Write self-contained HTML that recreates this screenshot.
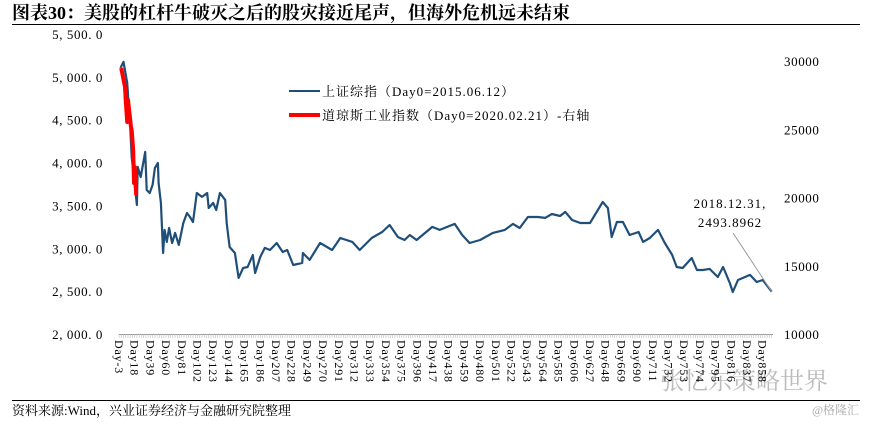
<!DOCTYPE html>
<html><head><meta charset="utf-8"><style>
body{margin:0;background:#fff;}
svg text{font-family:"Liberation Serif","Noto Serif CJK SC",serif;}
</style></head><body>
<svg width="871" height="420" xmlns="http://www.w3.org/2000/svg">
<text x="12" y="19" font-size="18" font-weight="bold" fill="#000">图表30：美股的杠杆牛破灭之后的股灾接近尾声，但海外危机远未结束</text>
<line x1="12" y1="24.5" x2="860" y2="24.5" stroke="#000" stroke-width="1"/>
<line x1="12" y1="400.5" x2="860" y2="400.5" stroke="#000" stroke-width="1"/>
<text x="12" y="415" font-size="13" fill="#000">资料来源:Wind，兴业证券经济与金融研究院整理</text>
<text x="660" y="389" font-size="24" fill="#bbb" font-family="Liberation Sans,Noto Sans CJK SC,sans-serif">张忆东策略世界</text>
<text x="812" y="414" font-size="12" fill="#aaa" font-family="Liberation Sans,Noto Sans CJK SC,sans-serif">@格隆汇</text>
<g id="plot"></g>
</svg>
<script>
const shDays=[-1,3,8,12,14,21,22,26,32,34,38,42,45,49,50,53,56,58,61,64,68,72,77,83,88,92,96,101,108,115,117,123,127,132,139,141,145,152,157,163,169,176,179,186,192,199,208,216,222,230,242,243,252,266,282,293,309,319,335,349,359,370,379,386,395,416,426,436,446,456,466,480,497,513,524,533,544,557,567,576,587,594,603,614,627,636,644,651,656,663,671,680,692,698,707,718,727,737,743,751,763,770,778,787,798,805,814,818,825,841,850,858,870];
const shValues=[5104,5174,4929,4415,4065,3505,3949,3832,4124,3680,3645,3739,3937,3995,3762,3529,2945,3214,3074,3237,3062,3179,3039,3295,3412,3365,3307,3645,3599,3645,3470,3529,3447,3645,3564,3295,3015,2945,2654,2770,2782,2922,2712,2899,3004,2980,3062,2957,2980,2805,2829,2945,2864,3062,2980,3120,3074,2980,3120,3190,3272,3132,3097,3155,3097,3249,3214,3249,3284,3155,3062,3097,3179,3214,3284,3237,3365,3365,3354,3400,3377,3424,3330,3295,3295,3424,3540,3470,3132,3307,3307,3155,3190,3074,3120,3214,3062,2922,2782,2770,2887,2747,2747,2759,2665,2782,2595,2490,2630,2689,2607,2630,2494];
const djDays=[0,5,6,8,9,13,14,16,17,18,20];
const djValues=[29487,28095,27143,25531,27143,25165,24945,23480,21062,22235,20183];
const leftTicks=[2000,2500,3000,3500,4000,4500,5000,5500];
const rightTicks=[10000,15000,20000,25000,30000];
const xLabelDays=[];for(let d=-3;d<=858;d+=21)xLabelDays.push(d);

const NS="http://www.w3.org/2000/svg";
const plot=document.getElementById('plot');
const X0=119,PX=15.7/21;
const x=d=>X0+(d+3)*PX;
const yL=v=>334-(v-2000)*300/3500;
const yR=v=>334-(v-10000)*273/20000;
function mk(tag,attrs,txt){const e=document.createElementNS(NS,tag);for(const k in attrs)e.setAttribute(k,attrs[k]);if(txt!==undefined)e.textContent=txt;plot.appendChild(e);return e;}

leftTicks.forEach(v=>{
  const s=v.toLocaleString('en-US',{minimumFractionDigits:1}).replace(',',', ').replace('.','. ');
  const t=mk('text',{x:103,y:yL(v)+5,'font-size':13,'text-anchor':'end',fill:'#000','letter-spacing':'0.6'},s);
  
  
});
rightTicks.forEach(v=>{
  const t=mk('text',{x:784,y:yR(v)+5,'font-size':13,fill:'#000','letter-spacing':'0.6'},String(v));
  
  
});
const ax=mk('line',{x1:X0,y1:334.5,x2:773,y2:334.5,stroke:'#999','stroke-width':1});


let tp='';for(let d=-3;d<=872;d+=3){const xx=x(d).toFixed(1);tp+=`M${xx} 334V338`;}
const tk=mk('path',{d:tp,stroke:'#bbb','stroke-width':0.6,fill:'none'});


xLabelDays.forEach(d=>{
  const xx=x(d)-4;
  const t=mk('text',{x:0,y:0,'font-size':12,fill:'#000','letter-spacing':'0.8',transform:`translate(${xx},340) rotate(90)`},'Day'+d);
  
  
});
const shPath=shDays.map((d,i)=>(i?'L':'M')+x(d).toFixed(1)+' '+yL(shValues[i]).toFixed(1)).join('');
const s1=mk('path',{d:shPath,stroke:'#1f4e79','stroke-width':2.2,fill:'none','stroke-linejoin':'round'});


const djPath=djDays.map((d,i)=>(i?'L':'M')+x(d).toFixed(1)+' '+yR(djValues[i]).toFixed(1)).join('');
const s2=mk('path',{d:djPath,stroke:'#ff0000','stroke-width':4,fill:'none','stroke-linejoin':'round'});


const l1=mk('line',{x1:289,y1:91,x2:320,y2:91,stroke:'#1f4e79','stroke-width':2});


const lt1=mk('text',{x:322,y:96,'font-size':13,fill:'#000','letter-spacing':'1'},'上证综指（Day0=2015.06.12）');


const l2=mk('line',{x1:289,y1:115,x2:320,y2:115,stroke:'#ff0000','stroke-width':4});


const lt2=mk('text',{x:322,y:120,'font-size':13,fill:'#000','letter-spacing':'1'},'道琼斯工业指数（Day0=2020.02.21）-右轴');


const last=shDays.length-1;
const al=mk('line',{x1:733,y1:233,x2:x(shDays[last]),y2:yL(shValues[last]),stroke:'#999','stroke-width':1});


const a1=mk('text',{x:730,y:208,'font-size':13,'text-anchor':'middle',fill:'#000','letter-spacing':'1'},'2018.12.31,');


const a2=mk('text',{x:730,y:227,'font-size':13,'text-anchor':'middle',fill:'#000','letter-spacing':'1'},'2493.8962');


</script>
</body></html>
